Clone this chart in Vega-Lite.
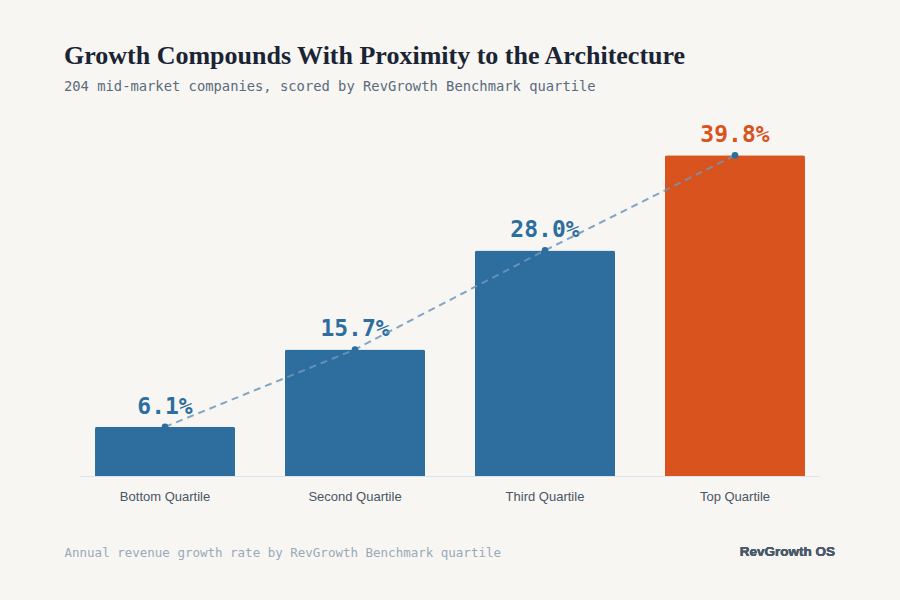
{
  "$schema": "https://vega.github.io/schema/vega-lite/v6.json",
  "description": "Annual revenue growth by RevGrowth Benchmark quartile",
  "autosize": "none",
  "width": 740,
  "height": 361,
  "padding": {"left": 80, "top": 115, "right": 80, "bottom": 124},
  "background": "#f7f6f3",
  "title": {
    "text": "Growth Compounds With Proximity to the Architecture",
    "subtitle": "204 mid-market companies, scored by RevGrowth Benchmark quartile",
    "anchor": "start",
    "frame": "group",
    "dx": -16,
    "offset": 21,
    "font": "Liberation Serif",
    "fontSize": 26,
    "fontWeight": "bold",
    "color": "#1b2434",
    "subtitleFont": "DejaVu Sans Mono",
    "subtitleFontSize": 13.8,
    "subtitleColor": "#5b6b7c",
    "subtitlePadding": 11
  },
  "config": {
    "view": {"stroke": null},
    "axis": {"grid": false, "ticks": false}
  },
  "data": {
    "values": [
      {"quartile": "Bottom Quartile", "growth": 0.061, "tier": "other"},
      {"quartile": "Second Quartile", "growth": 0.157, "tier": "other"},
      {"quartile": "Third Quartile", "growth": 0.28, "tier": "other"},
      {"quartile": "Top Quartile", "growth": 0.398, "tier": "top"}
    ]
  },
  "encoding": {
    "x": {
      "field": "quartile",
      "type": "nominal",
      "sort": null,
      "scale": {"paddingInner": 0.263, "paddingOuter": 0.079},
      "axis": {
        "title": "Annual revenue growth rate by RevGrowth Benchmark quartile",
        "titleAnchor": "start",
        "titleAlign": "left",
        "titleX": -16,
        "titleY": 76,
        "titleBaseline": "middle",
        "titleFont": "DejaVu Sans Mono",
        "titleFontSize": 12.5,
        "titleFontWeight": "normal",
        "titleColor": "#9aa9b8",
        "labelAngle": 0,
        "labelFont": "Liberation Sans",
        "labelFontSize": 13,
        "labelColor": "#4a5565",
        "labelPadding": 14,
        "domainColor": "#dde3ea",
        "domainWidth": 1
      }
    },
    "y": {
      "field": "growth",
      "type": "quantitative",
      "scale": {"domain": [0, 0.448]},
      "axis": null
    }
  },
  "layer": [
    {
      "mark": {"type": "bar", "cornerRadiusTopLeft": 2, "cornerRadiusTopRight": 2},
      "encoding": {
        "color": {
          "field": "tier",
          "type": "nominal",
          "scale": {"domain": ["other", "top"], "range": ["#2e6e9e", "#d9531f"]},
          "legend": null
        }
      }
    },
    {
      "mark": {
        "type": "text",
        "dy": -13,
        "baseline": "alphabetic",
        "font": "DejaVu Sans Mono",
        "fontSize": 23,
        "fontWeight": "bold"
      },
      "encoding": {
        "text": {"field": "growth", "type": "quantitative", "format": ".1%"},
        "color": {
          "field": "tier",
          "type": "nominal",
          "scale": {"domain": ["other", "top"], "range": ["#2e6e9e", "#d9531f"]},
          "legend": null
        }
      }
    },
    {
      "mark": {
        "type": "line",
        "color": "#6f97bb",
        "strokeWidth": 2,
        "strokeDash": [7, 5],
        "opacity": 0.85
      },
      "encoding": {}
    },
    {
      "mark": {"type": "circle", "size": 45, "color": "#2e6e9e", "opacity": 1},
      "encoding": {}
    },
    {
      "mark": {
        "type": "text",
        "text": "RevGrowth OS",
        "align": "right",
        "baseline": "middle",
        "dx": 100,
        "dy": 76,
        "font": "Liberation Sans",
        "fontSize": 13.5,
        "fontWeight": "bold",
        "color": "#4a5a6b"
      },
      "encoding": {
        "x": {"datum": "Top Quartile"},
        "y": {"datum": 0}
      }
    }
  ]
}
